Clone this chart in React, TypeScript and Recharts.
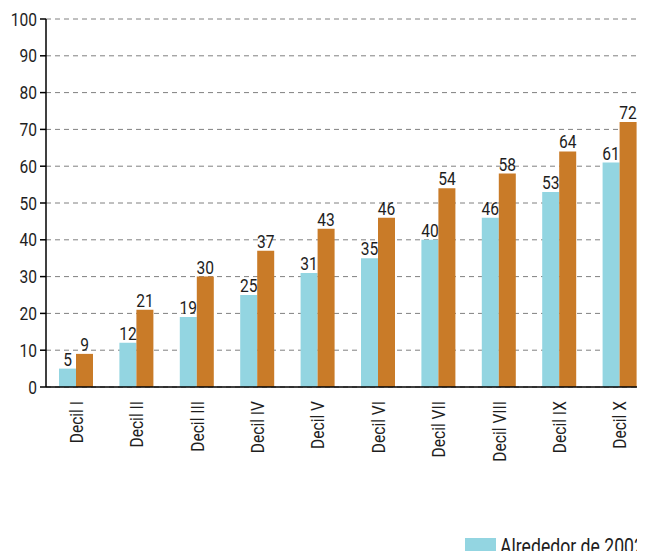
import { BarChart, Bar, XAxis, YAxis, CartesianGrid, LabelList } from 'recharts'

const deciles = ['Decil I', 'Decil II', 'Decil III', 'Decil IV', 'Decil V', 'Decil VI', 'Decil VII', 'Decil VIII', 'Decil IX', 'Decil X']
const around2002 = [5, 12, 19, 25, 31, 35, 40, 46, 53, 61]
const around2012 = [9, 21, 30, 37, 43, 46, 54, 58, 64, 72]
const yTicks = [0, 10, 20, 30, 40, 50, 60, 70, 80, 90, 100]
const seriesNames = ['Alrededor de 2002', 'Alrededor de 2012']

const FONT = 'Roboto, sans-serif'
const SQUEEZE = 0.82 // fake a condensed face
const BLUE = '#93d5e1'
const ORANGE = '#c97b28'
const TEXT = '#1e1e1e'

const data = deciles.map((name, i) => ({ name, a: around2002[i], b: around2012[i] }))
const boundaryTicks = deciles.map((_, i) => i).concat(deciles.length)

const CondText = ({ x, y, rotate = 0, anchor = 'middle', baseline = 'auto', size = 19, children }: any) => (
 <g transform={`translate(${x}, ${y}) rotate(${rotate}) scale(${SQUEEZE}, 1)`}>
  <text x={0} y={0} textAnchor={anchor} dominantBaseline={baseline} fontSize={size} fill={TEXT} fontFamily={FONT}>
   {children}
  </text>
 </g>
)

const XTick = ({ x, y, payload }: any) => (
 <CondText x={x} y={y} rotate={-90} anchor="end" baseline="central">{payload.value}</CondText>
)

const YTick = ({ x, y, payload }: any) => (
 <CondText x={x} y={y} anchor="end" baseline="central">{payload.value}</CondText>
)

const ValueLabel = ({ x, y, width, value }: any) => (
 <CondText x={x + width / 2} y={y - 3}>{value}</CondText>
)

export default function App() {
 return (
  <div style={{ position: 'relative', margin: -8, width: 645, height: 559, overflow: 'hidden', background: '#fff' }}>
   <BarChart
    width={660}
    height={559}
    data={data}
    margin={{ top: 19, right: 10, bottom: 91, left: 0 }}
    barCategoryGap={13}
    barGap={0}
   >
    <CartesianGrid vertical={false} stroke="#808080" strokeDasharray="5 4" />
    <XAxis
     dataKey="name"
     height={80}
     tickLine={false}
     axisLine={{ stroke: '#000', strokeWidth: 1.5 }}
     tick={<XTick />}
     tickMargin={8}
     interval={0}
    />
    <XAxis
     xAxisId="edges"
     type="number"
     domain={[0, deciles.length]}
     ticks={boundaryTicks}
     allowDataOverflow
     axisLine={false}
     tick={false}
     tickSize={8}
     tickLine={{ stroke: '#000', strokeWidth: 1.5 }}
     height={1}
     orientation="bottom"
    />
    <YAxis
     width={46}
     domain={[0, 100]}
     ticks={yTicks}
     interval={0}
     tickSize={6}
     tickLine={{ stroke: '#000', strokeWidth: 1.5 }}
     axisLine={{ stroke: '#000', strokeWidth: 1.5 }}
     tick={<YTick />}
     tickMargin={3}
    />
    <Bar dataKey="a" name={seriesNames[0]} fill={BLUE} isAnimationActive={false}>
     <LabelList dataKey="a" content={<ValueLabel />} />
    </Bar>
    <Bar dataKey="b" name={seriesNames[1]} fill={ORANGE} isAnimationActive={false}>
     <LabelList dataKey="b" content={<ValueLabel />} />
    </Bar>
   </BarChart>
   <svg width={180} height={25} style={{ position: 'absolute', left: 465, top: 533 }}>
    <rect x={0} y={5} width={31} height={16} fill={BLUE} />
    <CondText x={35} y={20.5} anchor="start" size={21.5}>{seriesNames[0]}</CondText>
   </svg>
  </div>
 )
}
